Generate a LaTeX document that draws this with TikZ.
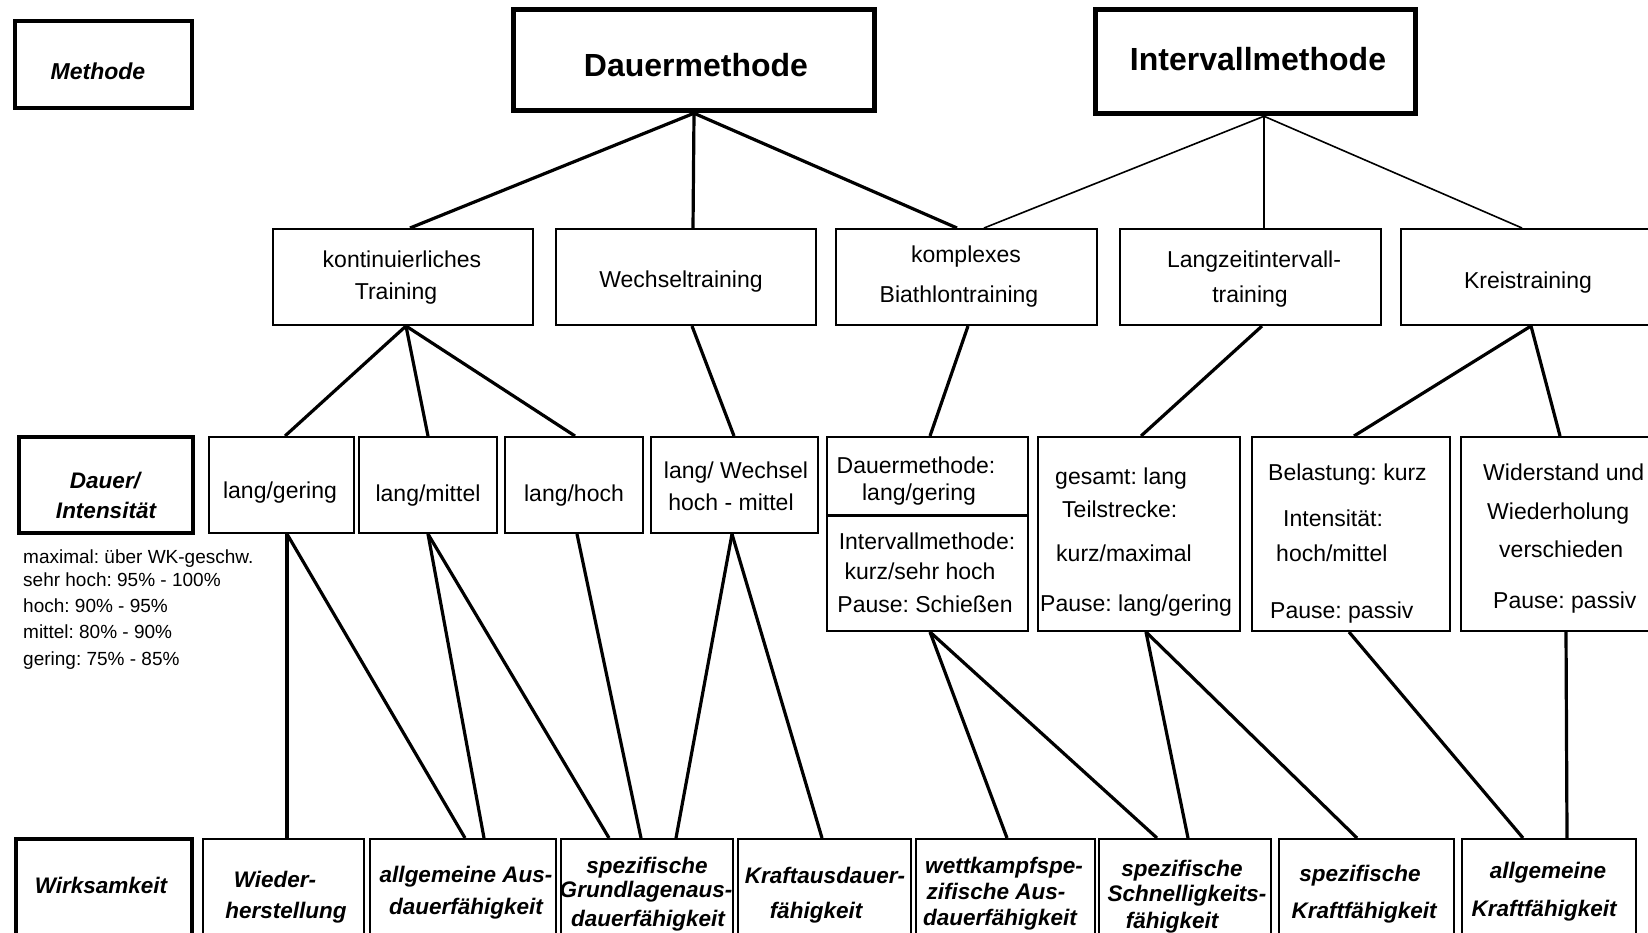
\documentclass[tikz,border=0pt]{standalone}
\usepackage{fontspec}
\setmainfont{Liberation Sans}
\usetikzlibrary{calc}
\frenchspacing
\newcommand\setfs[1]{\fontsize{#1}{#1}\selectfont}
\tikzset{
  bx/.style={draw, rectangle, line width=2pt, inner sep=0pt},
  hd/.style={draw, rectangle, line width=5.5pt, inner sep=0pt},
  lbx/.style={draw, rectangle, line width=3.2pt, inner sep=0pt},
  tx/.style={font=\setfs{23}, anchor=base, yshift=-8.2pt, inner sep=0pt},
  txw/.style={tx, anchor=base west},
  bit/.style={font=\setfs{22.5}\bfseries\itshape, anchor=base, yshift=-8pt, inner sep=0pt},
  hdt/.style={font=\setfs{32}\bfseries, anchor=base, yshift=-11.5pt, inner sep=0pt},
  leg/.style={font=\setfs{19}, anchor=base west, yshift=-6.8pt, inner sep=0pt},
  cn/.style={line width=3.2pt},
  cnthin/.style={line width=1.6pt}
}
\begin{document}
\begin{tikzpicture}[x=1pt,y=-1pt]
\useasboundingbox (0,0) rectangle (1648,932);
\fill[white] (0,0) rectangle (1648,932);
\clip (0,0) rectangle (1648,932);

% ---------- level 1
\node[lbx, minimum width=177pt, minimum height=87pt] (methode) at (103.5,64.5) {};
\node[hd, minimum width=361pt, minimum height=101pt] (dauer) at (694,60) {};
\node[hd, minimum width=320pt, minimum height=104pt] (interv) at (1255.5,61.5) {};
\node[bit, font=\setfs{23}\bfseries\itshape] (tmethode) at (98,71) {Methode};
\node[hdt] (tdauer) at (696,65) {Dauermethode};
\node[hdt] (tinterv) at (1258,59) {Intervallmethode};

% ---------- level 2
\node[bx, minimum width=260pt, minimum height=96pt] (kont) at (403,277) {};
\node[bx, minimum width=260pt, minimum height=96pt] (wechsel) at (686,277) {};
\node[bx, minimum width=261pt, minimum height=96pt] (biath) at (966.5,277) {};
\node[bx, minimum width=261pt, minimum height=96pt] (langz) at (1250.5,277) {};
\node[bx, minimum width=269pt, minimum height=96pt] (kreis) at (1535.5,277) {};
\node[tx] (tkont1) at (402,259) {kontinuierliches};
\node[tx] (tkont2) at (396,291) {Training};
\node[tx] (twech) at (681,279) {Wechseltraining};
\node[tx] (tbia1) at (966,254) {komplexes};
\node[tx] (tbia2) at (959,294) {Biathlontraining};
\node[tx] (tlz1) at (1254,259) {Langzeitintervall-};
\node[tx] (tlz2) at (1250,294) {training};
\node[tx] (tkreis) at (1528,280) {Kreistraining};

% ---------- level 3
\node[lbx, minimum width=174pt, minimum height=96pt] (dint) at (106,485) {};
\node[bx, minimum width=145pt, minimum height=96pt] (lg) at (281.5,485) {};
\node[bx, minimum width=138pt, minimum height=96pt] (lm) at (428,485) {};
\node[bx, minimum width=138pt, minimum height=96pt] (lh) at (574,485) {};
\node[bx, minimum width=167pt, minimum height=96pt] (lw) at (734.5,485) {};
\node[bx, minimum width=201pt, minimum height=194pt] (bth) at (927.5,534) {};
\node[bx, minimum width=202pt, minimum height=194pt] (ges) at (1139,534) {};
\node[bx, minimum width=198pt, minimum height=194pt] (bel) at (1351,534) {};
\node[bx, minimum width=209pt, minimum height=194pt] (wid) at (1565.5,534) {};
\draw[line width=3pt] ($(bth.north west)!0.407!(bth.south west)$) -- ($(bth.north east)!0.407!(bth.south east)$);

\node[bit] (tdint1) at (105,480) {Dauer/};
\node[bit] (tdint2) at (106,510) {Intensität};
\node[tx] (tlg) at (280,490) {lang/gering};
\node[tx] (tlm) at (428,493) {lang/mittel};
\node[tx] (tlh) at (574,493) {lang/hoch};
\node[tx] (tlw1) at (736,470) {lang/ Wechsel};
\node[tx] (tlw2) at (731,502) {hoch - mittel};
\node[tx] (tb1) at (916,465) {Dauermethode:};
\node[tx] (tb2) at (919,492) {lang/gering};
\node[tx] (tb3) at (927,541) {Intervallmethode:};
\node[tx] (tb4) at (920,571) {kurz/sehr hoch};
\node[tx] (tb5) at (925,604) {Pause: Schießen};
\node[txw] (tg1) at (1055,476) {gesamt: lang};
\node[txw] (tg2) at (1062,509) {Teilstrecke:};
\node[txw] (tg3) at (1056,553) {kurz/maximal};
\node[txw] (tg4) at (1040,603) {Pause: lang/gering};
\node[txw] (tbe1) at (1268,472) {Belastung: kurz};
\node[txw] (tbe2) at (1283,518) {Intensität:};
\node[txw] (tbe3) at (1276,553) {hoch/mittel};
\node[txw] (tbe4) at (1270,610) {Pause: passiv};
\node[txw] (tw1) at (1483,472) {Widerstand und};
\node[txw] (tw2) at (1487,511) {Wiederholung};
\node[txw] (tw3) at (1499,549) {verschieden};
\node[txw] (tw4) at (1493,600) {Pause: passiv};

% legend
\node[leg] (leg1) at (23,557) {maximal: über WK-geschw.};
\node[leg] (leg2) at (23,580) {sehr hoch: 95\% - 100\%};
\node[leg] (leg3) at (23,606) {hoch: 90\% - 95\%};
\node[leg] (leg4) at (23,632) {mittel: 80\% - 90\%};
\node[leg] (leg5) at (23,659) {gering: 75\% - 85\%};

% ---------- level 4
\node[lbx, minimum width=176pt, minimum height=111pt] (wirk) at (104,894.5) {};
\node[bx, minimum width=161pt, minimum height=111pt] (wied) at (283.5,894.5) {};
\node[bx, minimum width=186pt, minimum height=111pt] (allg) at (463,894.5) {};
\node[bx, minimum width=172pt, minimum height=111pt] (spg) at (647,894.5) {};
\node[bx, minimum width=173pt, minimum height=111pt] (kra) at (824.5,894.5) {};
\node[bx, minimum width=179pt, minimum height=111pt] (wett) at (1005.5,894.5) {};
\node[bx, minimum width=172pt, minimum height=111pt] (schn) at (1185,894.5) {};
\node[bx, minimum width=175pt, minimum height=111pt] (spk) at (1366.5,894.5) {};
\node[bx, minimum width=174pt, minimum height=111pt] (alk) at (1549,894.5) {};

\node[bit] (twirk) at (101,885) {Wirksamkeit};
\node[bit] (twi1) at (275,879) {Wieder-};
\node[bit] (twi2) at (286,910) {herstellung};
\node[bit] (tal1) at (466,874) {allgemeine Aus-};
\node[bit] (tal2) at (466,906) {dauerfähigkeit};
\node[bit] (tsg1) at (647,865) {spezifische};
\node[bit] (tsg2) at (646,889) {Grundlagenaus-};
\node[bit] (tsg3) at (648,918) {dauerfähigkeit};
\node[bit] (tkr1) at (825,875) {Kraftausdauer-};
\node[bit] (tkr2) at (816,910) {fähigkeit};
\node[bit] (twe1) at (1004,865) {wettkampfspe-};
\node[bit] (twe2) at (996,891) {zifische Aus-};
\node[bit] (twe3) at (1000,917) {dauerfähigkeit};
\node[bit] (tsc1) at (1182,868) {spezifische};
\node[bit] (tsc2) at (1187,893) {Schnelligkeits-};
\node[bit] (tsc3) at (1172,920) {fähigkeit};
\node[bit] (tsk1) at (1360,873) {spezifische};
\node[bit] (tsk2) at (1364,910) {Kraftfähigkeit};
\node[bit] (tak1) at (1548,870) {allgemeine};
\node[bit] (tak2) at (1544,908) {Kraftfähigkeit};

% ---------- connectors level 1 -> 2
\draw[cn] (dauer.south) -- ([xshift=7pt]kont.north);
\draw[cn] (dauer.south) -- ([xshift=7pt]wechsel.north);
\draw[cn] (dauer.south) -- ([xshift=-9.5pt]biath.north);
\draw[cnthin] ([xshift=8.5pt]interv.south) -- ([xshift=17.5pt]biath.north);
\draw[cnthin] ([xshift=8.5pt]interv.south) -- ([xshift=13.5pt]langz.north);
\draw[cnthin] ([xshift=8.5pt]interv.south) -- ([xshift=-13.5pt]kreis.north);

% ---------- level 2 -> 3
\draw[cn] ([xshift=3pt]kont.south) -- ([xshift=3.5pt]lg.north);
\draw[cn] ([xshift=3pt]kont.south) -- (lm.north);
\draw[cn] ([xshift=3pt]kont.south) -- ([xshift=1pt]lh.north);
\draw[cn] ([xshift=6pt]wechsel.south) -- ([xshift=-0.5pt]lw.north);
\draw[cn] ([xshift=1.5pt]biath.south) -- ([xshift=2.5pt]bth.north);
\draw[cn] ([xshift=11.5pt]langz.south) -- ([xshift=2pt]ges.north);
\draw[cn] ([xshift=-4.5pt]kreis.south) -- ([xshift=3pt]bel.north);
\draw[cn] ([xshift=-4.5pt]kreis.south) -- ([xshift=-5.5pt]wid.north);

% ---------- level 3 -> 4
\draw[cn] ([xshift=5.5pt]lg.south) -- ([xshift=3.5pt]wied.north);
\draw[cn] ([xshift=5.5pt]lg.south) -- ([xshift=2pt]allg.north);
\draw[cn] (lm.south) -- ([xshift=21pt]allg.north);
\draw[cn] (lm.south) -- ([xshift=-38pt]spg.north);
\draw[cn] ([xshift=3pt]lh.south) -- ([xshift=-6pt]spg.north);
\draw[cn] ([xshift=-2.5pt]lw.south) -- ([xshift=29pt]spg.north);
\draw[cn] ([xshift=-2.5pt]lw.south) -- ([xshift=-2.5pt]kra.north);
\draw[cn] ([xshift=2.5pt]bth.south) -- ([xshift=1.5pt]wett.north);
\draw[cn] ([xshift=2.5pt]bth.south) -- ([xshift=-28pt]schn.north);
\draw[cn] ([xshift=7pt]ges.south) -- ([xshift=3pt]schn.north);
\draw[cn] ([xshift=7pt]ges.south) -- ([xshift=-9.5pt]spk.north);
\draw[cn] ([xshift=-2pt]bel.south) -- ([xshift=-26pt]alk.north);
\draw[cn] ([xshift=0.5pt]wid.south) -- ([xshift=18pt]alk.north);
\end{tikzpicture}
\end{document}
